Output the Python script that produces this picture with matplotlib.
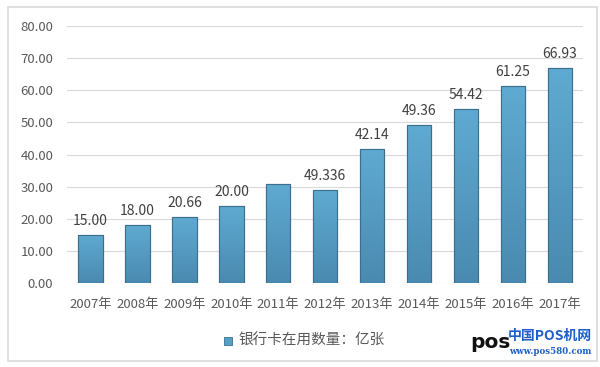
import numpy as np
import matplotlib.pyplot as plt
from matplotlib.colors import LinearSegmentedColormap
from matplotlib.patches import Rectangle

plt.rcParams['font.family'] = ['Noto Sans CJK SC', 'DejaVu Sans']

years = ['2007年', '2008年', '2009年', '2010年', '2011年', '2012年',
         '2013年', '2014年', '2015年', '2016年', '2017年']
cards = [15.0, 18.0, 20.6, 24.1, 30.9, 29.0, 41.8, 49.2, 54.3, 61.2, 66.93]
# labels as printed on the picture
value_labels = ['15.00', '18.00', '20.66', '20.00', '', '49.336',
                '42.14', '49.36', '54.42', '61.25', '66.93']
legend_label = '银行卡在用数量：亿张'

fig = plt.figure(figsize=(6, 3.67), dpi=100)
ax = fig.add_axes([0.112, 0.229, 0.86, 0.70])

x = np.arange(len(years))
bars = ax.bar(x, cards, width=0.52, color='#55a0c8', edgecolor='#3d6e8c',
              linewidth=0.8, zorder=3, label=legend_label)

# vertical gradient inside each bar
cmap = LinearSegmentedColormap.from_list('bar', ['#4a8ab0', '#5faad2'])
grad = np.linspace(0, 1, 100).reshape(-1, 1)
for b in bars:
    im = ax.imshow(grad, cmap=cmap, aspect='auto', origin='lower',
                   extent=(b.get_x(), b.get_x() + b.get_width(), 0, b.get_height()),
                   zorder=3.5)
    im.set_clip_path(b)
    edge = Rectangle((b.get_x(), 0), b.get_width(), b.get_height(), fill=False,
                     edgecolor='#3d6e8c', linewidth=0.8, zorder=4)
    ax.add_patch(edge)

for xi, v, lab in zip(x, cards, value_labels):
    if lab:
        ax.annotate(lab, (xi, v), xytext=(0, 5), textcoords='offset points',
                    ha='center', va='bottom', fontsize=10, color='#404040')

ax.set_xlim(-0.5, len(years) - 0.5)
ax.set_ylim(0, 80)
ax.set_yticks(np.arange(0, 81, 10))
ax.set_yticklabels(['{:.2f}'.format(t) for t in np.arange(0, 81, 10)])
ax.set_xticks(x)
ax.set_xticklabels(years)
ax.tick_params(axis='y', length=0, pad=10, labelsize=9.5, labelcolor='#595959')
ax.tick_params(axis='x', length=0, pad=11, labelsize=9.5, labelcolor='#595959')
ax.grid(axis='y', color='#d9d9d9', linewidth=0.8, zorder=0)
for s in ax.spines.values():
    s.set_visible(False)

# legend
fig.patches.append(Rectangle((0.373, 0.060), 0.014, 0.022, transform=fig.transFigure,
                             facecolor='#55a0c8', edgecolor='#3d6e8c', linewidth=0.6))
fig.text(0.397, 0.071, legend_label, fontsize=10.5, color='#595959', va='center')

# outer frame
fig.patches.append(Rectangle((0.014, 0.016), 0.981, 0.965, transform=fig.transFigure,
                             fill=False, edgecolor='#d9d9d9', linewidth=1.2))

# watermark
fig.text(0.783, 0.068, 'pos', fontsize=14.5, fontweight='bold', color='#111111',
         va='center', family='DejaVu Sans')
fig.text(0.847, 0.085, '中国POS机网', fontsize=10, fontweight='bold', color='#1d5fc7',
         va='center')
fig.text(0.849, 0.042, 'www.pos580.com', fontsize=6.2, fontweight='bold', color='#1d5fc7',
         va='center', family='DejaVu Serif')

fig.savefig('out.png', dpi=100)
